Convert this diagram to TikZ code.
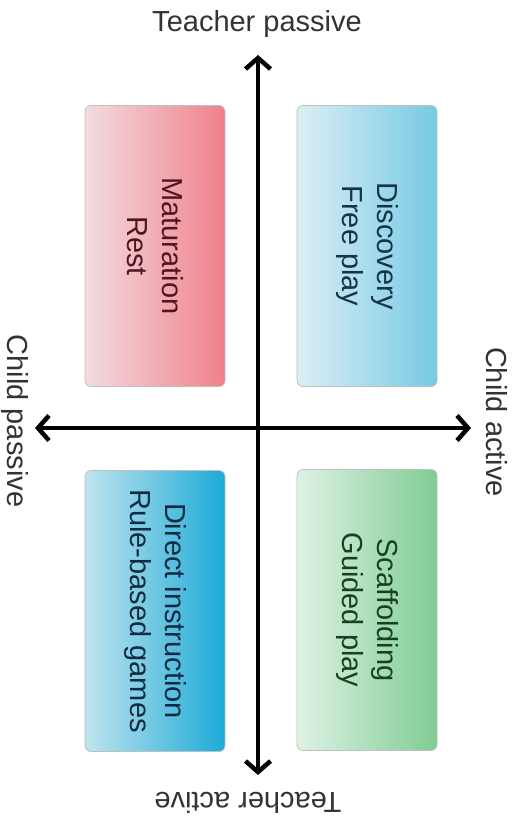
\documentclass[tikz,border=0pt]{standalone}
\usepackage{fontspec}
\setmainfont{Liberation Sans}
\usetikzlibrary{arrows.meta}
\definecolor{matL}{RGB}{242,220,224}
\definecolor{matR}{RGB}{240,128,138}
\definecolor{matT}{RGB}{80,22,32}
\definecolor{disL}{RGB}{220,238,244}
\definecolor{disR}{RGB}{118,202,228}
\definecolor{disT}{RGB}{22,52,72}
\definecolor{dirL}{RGB}{192,228,238}
\definecolor{dirR}{RGB}{28,170,216}
\definecolor{dirT}{RGB}{18,42,66}
\definecolor{scaL}{RGB}{222,242,228}
\definecolor{scaR}{RGB}{128,204,148}
\definecolor{scaT}{RGB}{22,66,32}

\begin{document}
\begin{tikzpicture}[x=1pt, y=-1pt,
    quad/.style={draw=black!25, line width=0.8pt, rounded corners=6pt, rotate=-90,
        minimum width=281pt, minimum height=140pt, inner sep=0pt, align=center,
        font=\fontsize{29}{35}\selectfont},
    axis/.style={line width=4.5pt,
        {Straight Barb[length=11pt,width=25pt]}-{Straight Barb[length=11pt,width=25pt]}},
    pole/.style={text=black!80, font=\fontsize{29}{35}\selectfont, inner sep=0pt}]
    \useasboundingbox (0,0) rectangle (524,822);
    \coordinate (T) at (258,55);
    \coordinate (B) at (258,775);
    \coordinate (L) at (35,428);
    \coordinate (R) at (471,428);
    \node[quad, left color=matL, right color=matR, text=matT] (mat) at (155,246) {Maturation\\Rest};
    \node[quad, left color=disL, right color=disR, text=disT] (dis) at (367,246) {Discovery\\Free play};
    \node[quad, left color=dirL, right color=dirR, text=dirT] (dir) at (155,611) {Direct instruction\\Rule-based games};
    \node[quad, left color=scaL, right color=scaR, text=scaT] (sca) at (367,610) {Scaffolding\\Guided play};
    \draw[axis] (B) -- (T);
    \draw[axis] (L) -- (R);
    \node[pole] (tp) at (257,24) {Teacher passive};
    \node[pole, rotate=180] (ta) at (248,803) {Teacher active};
    \node[pole, rotate=-90] (cp) at (15,421) {Child passive};
    \node[pole, rotate=-90] (ca) at (497,422) {Child active};
\end{tikzpicture}
\end{document}
